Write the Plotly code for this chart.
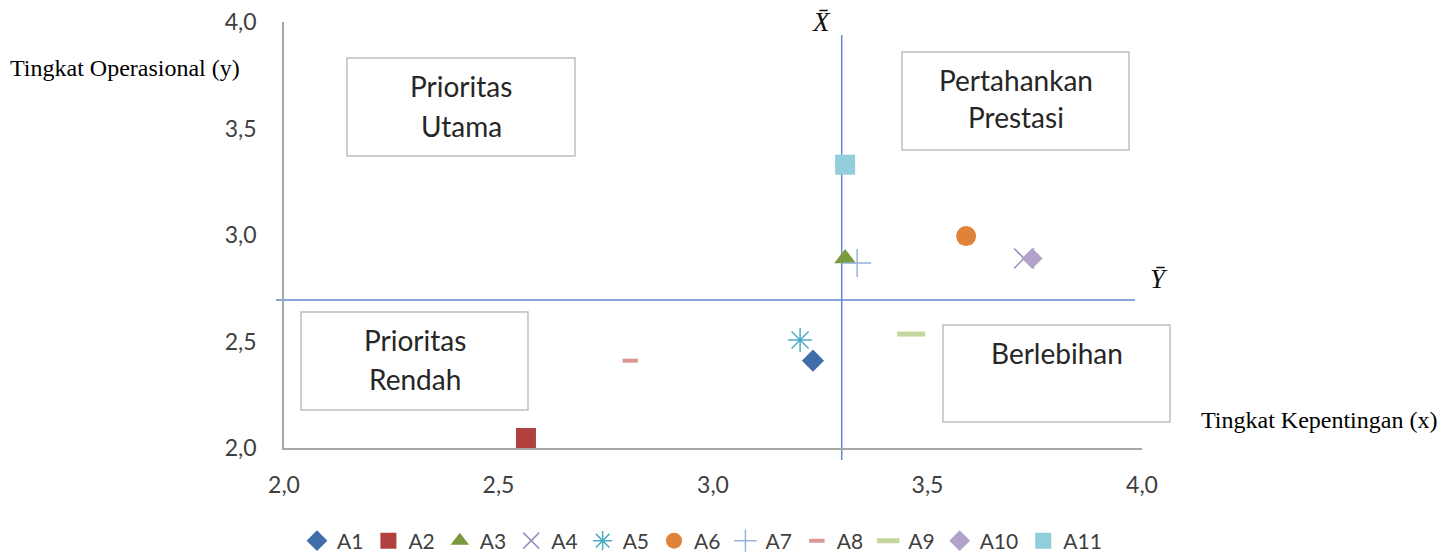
import plotly.graph_objects as go

# ---- data ----
names = ["A1", "A2", "A3", "A4", "A5", "A6", "A7", "A8", "A9", "A10", "A11"]
x_kepentingan = [3.233, 2.564, 3.308, 3.725, 3.203, 3.590, 3.336, 2.807, 3.462, 3.744, 3.308]
y_operasional = [2.41, 2.047, 2.89, 2.89, 2.507, 2.995, 2.869, 2.41, 2.535, 2.89, 3.33]
x_mean = 3.30
y_mean = 2.695
tick_vals = [2.0, 2.5, 3.0, 3.5, 4.0]

# ---- styles ----
symbols = ["diamond", "square", "triangle-up", "x-thin-open", "asterisk-open", "circle",
           "cross-thin-open", "line-ew-open", "line-ew-open", "diamond", "square"]
colors = ["#3E6DAA", "#B0413E", "#7A9A3E", "#9C8AC0", "#4BACC6", "#E0833A",
          "#95B3D7", "#D99694", "#C3D69B", "#B3A2C7", "#92CDDC"]
sizes = [17, 20, 19, 20, 20, 20, 20, 11, 20, 16, 20]
line_widths = [0, 0, 0, 1.5, 1.5, 0, 1.5, 4, 5, 0, 0]

# page body has an 8px default margin; compensate
O = 8
W, H = 1449 - O, 555 - O
L, R, T, B = 284 - O, 1142 - O, 22 - O, 448 - O


def px(xp):
    return (xp - O - L) / (R - L)


def py(yp):
    return (B - (yp - O)) / (B - T)


fig = go.Figure()
for i, n in enumerate(names):
    fig.add_trace(go.Scatter(
        x=[x_kepentingan[i]], y=[y_operasional[i]], mode="markers", name=n,
        cliponaxis=False,
        marker=dict(symbol=symbols[i], size=sizes[i], color=colors[i],
                    line=dict(width=line_widths[i], color=colors[i])),
    ))

shapes = []
# mean lines
shapes.append(dict(type="line", xref="x", yref="paper", x0=x_mean, x1=x_mean,
                   y0=py(460), y1=py(35), line=dict(color="#5B8BD0", width=1.5), layer="below"))
shapes.append(dict(type="line", xref="paper", yref="y", x0=px(276), x1=px(1135),
                   y0=y_mean, y1=y_mean, line=dict(color="#5B8BD0", width=1.5), layer="below"))

boxes = [
    (347, 575, 58, 156, [("Prioritas", 86), ("Utama", 126)]),
    (902, 1129, 52, 150, [("Pertahankan", 80), ("Prestasi", 117)]),
    (301, 528, 312, 410, [("Prioritas", 340), ("Rendah", 379)]),
    (943, 1170, 325, 422, [("Berlebihan", 353)]),
]
annotations = []
for x0, x1, y0, y1, lines in boxes:
    shapes.append(dict(type="rect", xref="paper", yref="paper", x0=px(x0), x1=px(x1),
                       y0=py(y1), y1=py(y0), line=dict(color="#BFBFBF", width=1.5),
                       fillcolor="white", layer="below"))
    for txt, yy in lines:
        annotations.append(dict(text=txt, xref="paper", yref="paper", x=px((x0 + x1) / 2), y=py(yy),
                                showarrow=False, xanchor="center", yanchor="middle",
                                font=dict(family="Lato", size=28, color="#262626")))

annotations += [
    dict(text="<i>X\u0304</i>", xref="paper", yref="paper", x=px(821), y=py(22), showarrow=False,
         xanchor="center", yanchor="middle", font=dict(family="Liberation Serif", size=27, color="#111111")),
    dict(text="<i>Y\u0304</i>", xref="paper", yref="paper", x=px(1159), y=py(279), showarrow=False,
         xanchor="center", yanchor="middle", font=dict(family="Liberation Serif", size=27, color="#111111")),
    dict(text="Tingkat Operasional (y)", xref="paper", yref="paper", x=px(8), y=py(68), showarrow=False,
         xanchor="left", yanchor="middle", font=dict(family="Liberation Serif", size=24, color="#000000")),
    dict(text="Tingkat Kepentingan (x)", xref="paper", yref="paper", x=px(1199), y=py(420), showarrow=False,
         xanchor="left", yanchor="middle", font=dict(family="Liberation Serif", size=24, color="#000000")),
]

fig.update_layout(
    width=W, height=H,
    margin=dict(l=L, r=W - R, t=T, b=H - B, pad=0, autoexpand=False),
    paper_bgcolor="white", plot_bgcolor="white",
    separators=",.",
    showlegend=True,
    legend=dict(orientation="h", x=px(702), y=py(541), xanchor="center", yanchor="middle",
                font=dict(family="Lato", size=21, color="#404040"), itemsizing="trace",
                tracegroupgap=0, itemwidth=30),
    shapes=shapes, annotations=annotations,
)
fig.update_xaxes(range=[2.0, 4.0], tickvals=tick_vals, tickformat=".1f", showgrid=False, zeroline=False,
                 showline=True, linecolor="#A6A6A6", linewidth=1.5, ticks="outside", ticklen=16,
                 ticklabeloverflow="allow",
                 tickcolor="rgba(0,0,0,0)", tickfont=dict(family="Lato", size=23, color="#404040"))
fig.update_yaxes(range=[2.0, 4.0], tickvals=tick_vals, tickformat=".1f", showgrid=False, zeroline=False,
                 showline=True, linecolor="#A6A6A6", linewidth=1.5, ticks="outside", ticklen=21,
                 ticklabeloverflow="allow",
                 tickcolor="rgba(0,0,0,0)", tickfont=dict(family="Lato", size=23, color="#404040"))

fig.write_html("out.html")
